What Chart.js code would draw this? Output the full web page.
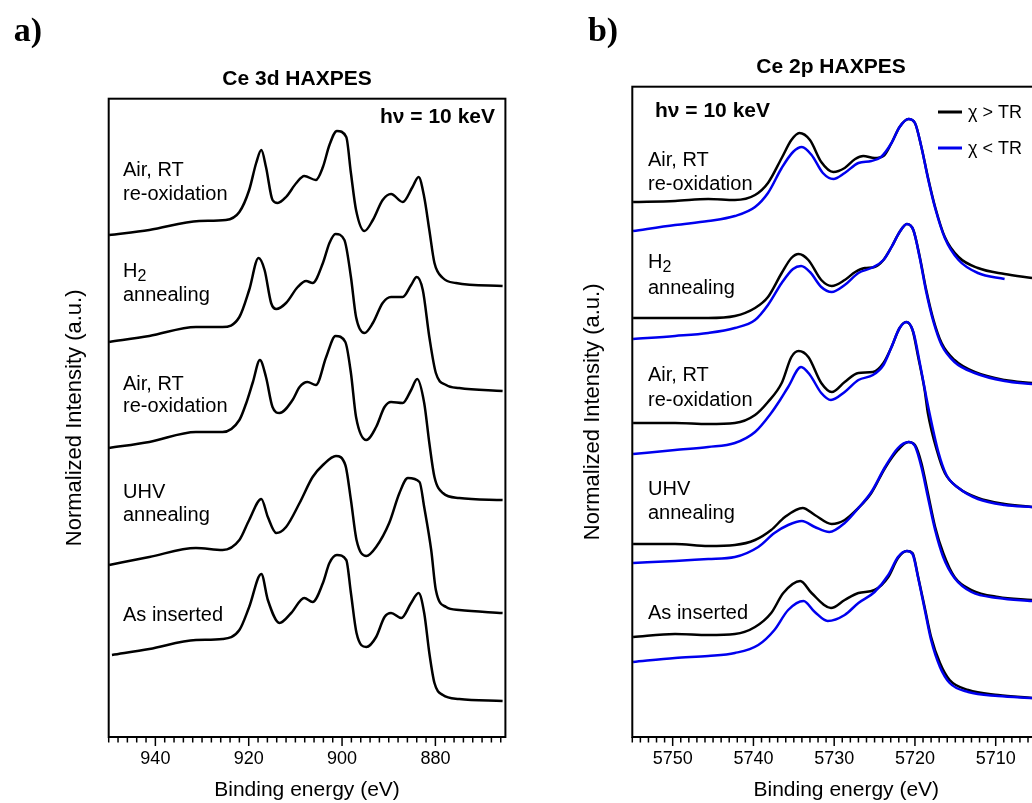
<!DOCTYPE html>
<html>
<head>
<meta charset="utf-8">
<script src="https://cdn.jsdelivr.net/npm/chart.js@4.4.1/dist/chart.umd.min.js"></script>
<style>
  html, body { margin: 0; padding: 0; background: #fff; }
  #page { position: relative; width: 1032px; height: 803px; overflow: hidden;
          font-family: "Liberation Sans", Arial, sans-serif; color: #000; }
  .panel { position: absolute; top: 0; height: 803px; }
  #boxA { left: 0; width: 520px; }
  #boxB { left: 520px; width: 560px; }
  .lbl { position: absolute; white-space: nowrap; line-height: 1; transform: translate(-50%, -50%); }
  .letter { font-family: "Liberation Serif", "Times New Roman", serif; font-weight: bold; font-size: 34px; }
  .ttl { font-weight: bold; font-size: 21px; }
</style>
</head>
<body>
<div id="page">
  <div class="panel" id="boxA"><canvas id="chartA"></canvas></div>
  <div class="panel" id="boxB"><canvas id="chartB"></canvas></div>
  <div class="lbl letter" style="left:28px; top:30px;">a)</div>
  <div class="lbl letter" style="left:603px; top:30px;">b)</div>
  <div class="lbl ttl" style="left:297px; top:77px;">Ce 3d HAXPES</div>
  <div class="lbl ttl" style="left:831px; top:65px;">Ce 2p HAXPES</div>
</div>
<script>
// ---- Ce 3d spectra (binding energy eV / normalized intensity, offset stacked) ----
const ce3dSamples = ['Air, RT re-oxidation', 'H2 annealing', 'Air, RT re-oxidation', 'UHV annealing', 'As inserted'];
const ce3dMajorTicks = [940, 920, 900, 880];

const ce3dReox2E = [949.9, 941.3, 930.6, 924.9, 922.0, 919.9, 918.4, 917.3, 916.3, 914.9, 913.8, 912.0, 909.8, 908.1, 905.6, 904.1, 902.7, 901.1, 899.1, 898.1, 897.0, 895.2, 893.4, 891.3, 889.5, 887.0, 884.9, 883.6, 882.4, 881.3, 880.2, 878.4, 875.6, 865.6];
const ce3dReox2I = [5.02, 5.07, 5.16, 5.17, 5.25, 5.47, 5.74, 5.87, 5.70, 5.37, 5.34, 5.40, 5.54, 5.61, 5.57, 5.70, 5.92, 6.06, 6.00, 5.64, 5.27, 5.06, 5.17, 5.37, 5.43, 5.35, 5.50, 5.60, 5.40, 5.07, 4.74, 4.59, 4.54, 4.51];

const ce3dH2E = [949.9, 941.3, 931.3, 925.6, 922.0, 919.9, 917.9, 916.6, 915.2, 914.1, 912.0, 909.5, 907.7, 906.3, 904.1, 902.7, 901.4, 899.5, 898.1, 897.0, 895.2, 893.4, 891.3, 889.5, 887.0, 885.2, 884.0, 882.7, 881.3, 879.9, 877.7, 874.9, 865.6];
const ce3dH2I = [3.95, 4.01, 4.10, 4.10, 4.20, 4.47, 4.79, 4.67, 4.34, 4.28, 4.34, 4.50, 4.56, 4.54, 4.74, 4.94, 5.03, 4.97, 4.60, 4.20, 4.04, 4.14, 4.34, 4.40, 4.40, 4.52, 4.60, 4.47, 4.00, 3.64, 3.52, 3.49, 3.46];

const ce3dReox1E = [949.9, 941.3, 931.3, 925.6, 922.0, 920.6, 919.1, 917.6, 916.3, 914.9, 913.4, 910.6, 909.1, 907.4, 905.6, 903.4, 901.4, 899.3, 898.1, 897.0, 894.8, 892.7, 890.9, 889.5, 887.0, 885.2, 883.9, 882.4, 881.3, 880.2, 878.4, 874.9, 865.6];
const ce3dReox1I = [2.89, 2.95, 3.05, 3.05, 3.17, 3.33, 3.55, 3.77, 3.60, 3.30, 3.24, 3.37, 3.50, 3.55, 3.52, 3.80, 4.01, 3.95, 3.64, 3.20, 2.97, 3.10, 3.30, 3.35, 3.34, 3.47, 3.58, 3.34, 2.94, 2.60, 2.44, 2.39, 2.37];

const ce3dUhvE = [949.9, 941.3, 931.3, 925.6, 922.0, 919.9, 917.3, 915.9, 914.1, 912.0, 909.1, 906.3, 904.1, 901.3, 899.3, 898.1, 896.9, 894.8, 892.7, 889.9, 887.7, 885.9, 883.4, 882.4, 880.9, 879.9, 877.7, 874.9, 865.6];
const ce3dUhvI = [1.72, 1.80, 1.89, 1.87, 1.97, 2.17, 2.38, 2.20, 2.04, 2.10, 2.34, 2.60, 2.72, 2.81, 2.72, 2.37, 1.97, 1.81, 1.90, 2.14, 2.44, 2.59, 2.55, 2.30, 1.87, 1.47, 1.30, 1.27, 1.24];

const ce3dAsInsE = [949.3, 941.3, 931.3, 925.6, 922.0, 919.9, 917.3, 915.9, 913.4, 910.9, 908.1, 906.3, 904.1, 902.7, 901.1, 899.1, 898.1, 896.9, 894.8, 892.7, 890.9, 889.5, 887.3, 885.2, 883.6, 882.4, 881.3, 880.2, 878.4, 874.9, 865.6];
const ce3dAsInsI = [0.82, 0.88, 0.97, 0.98, 1.07, 1.30, 1.63, 1.37, 1.14, 1.24, 1.39, 1.35, 1.54, 1.74, 1.82, 1.77, 1.44, 1.04, 0.90, 1.00, 1.20, 1.24, 1.19, 1.34, 1.44, 1.24, 0.84, 0.54, 0.42, 0.38, 0.36];

// ---- Ce 2p spectra, two series per sample: Hi = chi > TR (black), Lo = chi < TR (blue) ----
const ce2pSeries = ['\u03C7 > TR', '\u03C7 < TR'];
const ce2pMajorTicks = [5750, 5740, 5730, 5720, 5710];

const ce2pReox2HiE = [5754.9, 5749.7, 5745.6, 5742.3, 5739.8, 5738.2, 5736.5, 5735.3, 5734.3, 5733.0, 5731.6, 5730.1, 5728.7, 5727.4, 5726.4, 5725.0, 5723.9, 5722.9, 5721.9, 5720.8, 5720.0, 5719.2, 5718.4, 5717.5, 5716.3, 5714.6, 5712.2, 5708.9, 5705.5];
const ce2pReox2HiI = [5.35, 5.36, 5.38, 5.37, 5.42, 5.54, 5.79, 5.97, 6.04, 5.97, 5.75, 5.65, 5.69, 5.78, 5.81, 5.79, 5.81, 5.94, 6.10, 6.18, 6.14, 5.90, 5.60, 5.30, 5.00, 4.80, 4.69, 4.63, 4.59];
const ce2pReox2LoE = [5754.9, 5749.7, 5745.6, 5742.3, 5739.8, 5738.2, 5736.5, 5735.1, 5734.0, 5732.8, 5731.4, 5730.1, 5728.7, 5727.0, 5725.4, 5724.2, 5722.9, 5721.9, 5720.8, 5720.0, 5719.2, 5718.4, 5717.5, 5716.3, 5714.6, 5712.2, 5708.9];
const ce2pReox2LoI = [5.06, 5.12, 5.16, 5.21, 5.30, 5.44, 5.69, 5.85, 5.90, 5.82, 5.64, 5.58, 5.64, 5.74, 5.76, 5.80, 5.94, 6.10, 6.18, 6.14, 5.90, 5.59, 5.29, 4.99, 4.77, 4.64, 4.58];

const ce2pH2HiE = [5754.9, 5749.7, 5745.6, 5742.3, 5739.8, 5738.2, 5736.5, 5735.3, 5734.4, 5733.2, 5731.6, 5730.3, 5728.7, 5727.4, 5726.2, 5725.0, 5723.9, 5722.9, 5721.9, 5721.0, 5720.2, 5719.4, 5718.6, 5717.7, 5716.7, 5715.1, 5712.6, 5708.9, 5705.5];
const ce2pH2HiI = [4.19, 4.19, 4.19, 4.21, 4.29, 4.40, 4.64, 4.79, 4.83, 4.77, 4.57, 4.51, 4.57, 4.65, 4.69, 4.70, 4.77, 4.90, 5.05, 5.13, 5.07, 4.80, 4.47, 4.17, 3.94, 3.77, 3.65, 3.57, 3.54];
const ce2pH2LoE = [5754.9, 5749.7, 5745.6, 5742.3, 5739.8, 5738.2, 5736.5, 5735.1, 5734.1, 5733.0, 5731.6, 5730.3, 5728.7, 5727.0, 5725.4, 5723.9, 5722.9, 5721.9, 5721.0, 5720.2, 5719.4, 5718.6, 5717.7, 5716.7, 5715.1, 5712.6, 5708.9, 5705.5];
const ce2pH2LoI = [3.98, 4.01, 4.04, 4.09, 4.17, 4.32, 4.54, 4.68, 4.71, 4.65, 4.50, 4.45, 4.52, 4.64, 4.69, 4.77, 4.90, 5.05, 5.13, 5.07, 4.79, 4.45, 4.15, 3.92, 3.75, 3.64, 3.56, 3.53];

const ce2pReox1HiE = [5754.9, 5749.7, 5745.6, 5742.3, 5739.8, 5738.2, 5736.5, 5735.3, 5734.4, 5733.2, 5731.6, 5730.3, 5728.7, 5727.0, 5725.2, 5723.9, 5722.9, 5721.9, 5721.1, 5720.3, 5719.6, 5718.8, 5718.4, 5717.3, 5716.3, 5714.6, 5712.2, 5708.9, 5705.5];
const ce2pReox1HiI = [3.14, 3.14, 3.13, 3.14, 3.22, 3.35, 3.54, 3.80, 3.86, 3.80, 3.54, 3.45, 3.55, 3.64, 3.65, 3.74, 3.90, 4.09, 4.15, 4.07, 3.80, 3.47, 3.24, 2.87, 2.64, 2.49, 2.39, 2.33, 2.30];
const ce2pReox1LoE = [5754.9, 5749.7, 5745.6, 5742.3, 5739.8, 5737.8, 5736.7, 5735.7, 5734.1, 5733.0, 5731.6, 5730.4, 5728.7, 5727.0, 5725.2, 5723.9, 5722.9, 5721.9, 5721.0, 5720.2, 5719.4, 5718.6, 5718.2, 5717.1, 5716.1, 5714.6, 5712.2, 5708.9, 5705.5];
const ce2pReox1LoI = [2.83, 2.87, 2.90, 2.94, 3.05, 3.24, 3.37, 3.50, 3.70, 3.62, 3.44, 3.37, 3.45, 3.57, 3.62, 3.72, 3.90, 4.09, 4.15, 4.05, 3.74, 3.40, 3.24, 2.85, 2.62, 2.49, 2.38, 2.32, 2.30];

const ce2pUhvHiE = [5754.9, 5749.7, 5745.6, 5742.3, 5739.8, 5737.8, 5736.1, 5733.9, 5732.4, 5730.3, 5728.7, 5727.0, 5725.4, 5723.7, 5722.1, 5720.8, 5720.0, 5719.2, 5718.4, 5717.5, 5716.5, 5715.1, 5713.0, 5709.7, 5705.5];
const ce2pUhvHiI = [1.93, 1.93, 1.91, 1.92, 1.97, 2.07, 2.20, 2.29, 2.22, 2.13, 2.17, 2.29, 2.44, 2.69, 2.87, 2.95, 2.92, 2.74, 2.44, 2.10, 1.84, 1.60, 1.47, 1.40, 1.37];
const ce2pUhvLoE = [5754.9, 5749.7, 5745.6, 5742.3, 5739.4, 5737.4, 5735.7, 5734.0, 5732.4, 5730.6, 5728.7, 5727.0, 5725.4, 5723.7, 5722.1, 5720.8, 5720.0, 5719.2, 5718.4, 5717.5, 5716.5, 5715.1, 5713.0, 5709.7, 5705.5];
const ce2pUhvLoI = [1.74, 1.76, 1.78, 1.80, 1.90, 2.04, 2.12, 2.16, 2.10, 2.05, 2.14, 2.29, 2.45, 2.70, 2.89, 2.95, 2.91, 2.70, 2.40, 2.07, 1.80, 1.59, 1.45, 1.39, 1.36];

const ce2pAsInsHiE = [5754.9, 5749.7, 5745.6, 5742.3, 5739.8, 5737.8, 5736.3, 5734.2, 5732.8, 5730.4, 5728.7, 5727.0, 5725.0, 5723.3, 5722.1, 5721.0, 5720.3, 5719.6, 5718.8, 5718.0, 5716.9, 5715.7, 5713.4, 5709.7, 5705.5];
const ce2pAsInsHiI = [1.00, 1.03, 1.02, 1.03, 1.10, 1.24, 1.44, 1.56, 1.44, 1.29, 1.37, 1.44, 1.47, 1.60, 1.79, 1.86, 1.84, 1.60, 1.30, 1.00, 0.74, 0.57, 0.47, 0.42, 0.39];
const ce2pAsInsLoE = [5754.9, 5749.7, 5745.6, 5742.3, 5739.4, 5737.4, 5735.7, 5733.8, 5732.4, 5730.8, 5728.7, 5727.0, 5725.0, 5723.3, 5722.1, 5721.0, 5720.3, 5719.6, 5718.8, 5718.0, 5716.9, 5715.7, 5713.4, 5709.7, 5705.5];
const ce2pAsInsLoI = [0.75, 0.79, 0.81, 0.84, 0.92, 1.07, 1.27, 1.36, 1.25, 1.16, 1.22, 1.34, 1.45, 1.62, 1.80, 1.86, 1.83, 1.59, 1.28, 0.97, 0.70, 0.54, 0.45, 0.41, 0.39];

const seriesColors = ['#000000', '#0000ee'];
const FONT = '"Liberation Sans", Arial, sans-serif';

function pts(es, is) {
    return es.map((e, i) => ({ x: e, y: is[i] }));
}

function line(label, es, is, color, order) {
    return {
        label: label,
        data: pts(es, is),
        borderColor: color,
        borderWidth: 2.5,
        pointRadius: 0,
        cubicInterpolationMode: 'monotone',
        fill: false,
        order: order
    };
}

// frame, minor/major tick marks, in-plot labels and legend
const panelDecor = {
    id: 'panelDecor',
    afterDraw(chart, args, opts) {
        const ctx = chart.ctx;
        const a = chart.chartArea;
        const xs = chart.scales.x;
        ctx.save();
        ctx.strokeStyle = '#000';
        ctx.lineWidth = 2;
        ctx.strokeRect(a.left, a.top, a.right - a.left, a.bottom - a.top);

        ctx.lineWidth = 1.5;
        xs.ticks.forEach(t => {
            const px = xs.getPixelForValue(t.value);
            const len = opts.majors.includes(t.value) ? 8 : 4.5;
            ctx.beginPath();
            ctx.moveTo(px, a.bottom);
            ctx.lineTo(px, a.bottom + 1 + len);
            ctx.stroke();
        });

        ctx.fillStyle = '#000';
        ctx.textBaseline = 'alphabetic';
        opts.notes.forEach(n => {
            ctx.font = (n.bold ? 'bold ' : '') + n.size + 'px ' + FONT;
            ctx.textAlign = n.align || 'left';
            ctx.fillText(n.text, n.x, n.y);
            if (n.sub) {
                const w = ctx.measureText(n.text).width;
                ctx.font = (n.size - 4) + 'px ' + FONT;
                ctx.fillText(n.sub, n.x + w, n.y + 4);
            }
        });

        (opts.legend || []).forEach(l => {
            ctx.strokeStyle = l.color;
            ctx.lineWidth = 3;
            ctx.beginPath();
            ctx.moveTo(l.x, l.y);
            ctx.lineTo(l.x + 24, l.y);
            ctx.stroke();
            ctx.font = '18px ' + FONT;
            ctx.textAlign = 'left';
            ctx.fillText(l.text, l.x + 30, l.y + 6);
        });
        ctx.restore();
    }
};

function xAxis(min, max, step, majors) {
    return {
        type: 'linear',
        reverse: true,
        min: min,
        max: max,
        afterBuildTicks: s => {
            const t = [];
            for (let v = min + ((max - min) % step); v <= max + 1e-6; v += step) t.push({ value: Math.round(v) });
            s.ticks = t;
        },
        afterFit: s => { s.height = 66; },
        grid: { display: false, drawTicks: false },
        border: { display: false },
        ticks: {
            autoSkip: false,
            maxRotation: 0,
            padding: 11,
            color: '#000',
            font: { family: FONT, size: 18 },
            callback: v => majors.includes(v) ? String(v) : ''
        },
        title: {
            display: true,
            text: 'Binding energy (eV)',
            color: '#000',
            font: { family: FONT, size: 21 },
            padding: { top: 0, bottom: 0 }
        }
    };
}

function yAxis(max, width, titleOffset) {
    return {
        min: 0,
        max: max,
        afterFit: s => { s.width = width; },
        ticks: { display: false },
        grid: { display: false },
        border: { display: false },
        title: {
            display: true,
            text: 'Normalized Intensity (a.u.)',
            color: '#000',
            font: { family: FONT, size: 22 },
            padding: { top: titleOffset, bottom: 0 }
        }
    };
}

const notesA = [
    { text: 'Air, RT', x: 123, y: 176, size: 20 },
    { text: 're-oxidation', x: 123, y: 200, size: 20 },
    { text: 'H', sub: '2', x: 123, y: 277, size: 20 },
    { text: 'annealing', x: 123, y: 301, size: 20 },
    { text: 'Air, RT', x: 123, y: 390, size: 20 },
    { text: 're-oxidation', x: 123, y: 412, size: 20 },
    { text: 'UHV', x: 123, y: 498, size: 20 },
    { text: 'annealing', x: 123, y: 521, size: 20 },
    { text: 'As inserted', x: 123, y: 621, size: 20 },
    { text: 'h\u03BD = 10 keV', x: 495, y: 123, size: 21, bold: true, align: 'right' }
];

const notesB = [
    { text: 'Air, RT', x: 128, y: 166, size: 20 },
    { text: 're-oxidation', x: 128, y: 190, size: 20 },
    { text: 'H', sub: '2', x: 128, y: 268, size: 20 },
    { text: 'annealing', x: 128, y: 294, size: 20 },
    { text: 'Air, RT', x: 128, y: 381, size: 20 },
    { text: 're-oxidation', x: 128, y: 406, size: 20 },
    { text: 'UHV', x: 128, y: 495, size: 20 },
    { text: 'annealing', x: 128, y: 519, size: 20 },
    { text: 'As inserted', x: 128, y: 619, size: 20 },
    { text: 'h\u03BD = 10 keV', x: 135, y: 117, size: 21, bold: true }
];

const legendB = [
    { text: ce2pSeries[0], color: seriesColors[0], x: 418, y: 112 },
    { text: ce2pSeries[1], color: seriesColors[1], x: 418, y: 148 }
];

new Chart(document.getElementById('chartA'), {
    type: 'line',
    data: {
        datasets: [
            line(ce3dSamples[0], ce3dReox2E, ce3dReox2I, seriesColors[0], 1),
            line(ce3dSamples[1], ce3dH2E, ce3dH2I, seriesColors[0], 1),
            line(ce3dSamples[2], ce3dReox1E, ce3dReox1I, seriesColors[0], 1),
            line(ce3dSamples[3], ce3dUhvE, ce3dUhvI, seriesColors[0], 1),
            line(ce3dSamples[4], ce3dAsInsE, ce3dAsInsI, seriesColors[0], 1)
        ]
    },
    options: {
        responsive: true,
        maintainAspectRatio: false,
        animation: false,
        layout: { padding: { top: 98.7, right: 14.6, bottom: 0, left: 0 } },
        scales: {
            x: xAxis(865, 950, 2, ce3dMajorTicks),
            y: yAxis(6.383, 108.7, 61.8)
        },
        plugins: {
            legend: { display: false },
            tooltip: { enabled: false },
            panelDecor: { majors: ce3dMajorTicks, notes: notesA }
        }
    },
    plugins: [panelDecor]
});

new Chart(document.getElementById('chartB'), {
    type: 'line',
    data: {
        datasets: [
            line(ce3dSamples[0] + ' ' + ce2pSeries[0], ce2pReox2HiE, ce2pReox2HiI, seriesColors[0], 1),
            line(ce3dSamples[0] + ' ' + ce2pSeries[1], ce2pReox2LoE, ce2pReox2LoI, seriesColors[1], 0),
            line(ce3dSamples[1] + ' ' + ce2pSeries[0], ce2pH2HiE, ce2pH2HiI, seriesColors[0], 1),
            line(ce3dSamples[1] + ' ' + ce2pSeries[1], ce2pH2LoE, ce2pH2LoI, seriesColors[1], 0),
            line(ce3dSamples[2] + ' ' + ce2pSeries[0], ce2pReox1HiE, ce2pReox1HiI, seriesColors[0], 1),
            line(ce3dSamples[2] + ' ' + ce2pSeries[1], ce2pReox1LoE, ce2pReox1LoI, seriesColors[1], 0),
            line(ce3dSamples[3] + ' ' + ce2pSeries[0], ce2pUhvHiE, ce2pUhvHiI, seriesColors[0], 1),
            line(ce3dSamples[3] + ' ' + ce2pSeries[1], ce2pUhvLoE, ce2pUhvLoI, seriesColors[1], 0),
            line(ce3dSamples[4] + ' ' + ce2pSeries[0], ce2pAsInsHiE, ce2pAsInsHiI, seriesColors[0], 1),
            line(ce3dSamples[4] + ' ' + ce2pSeries[1], ce2pAsInsLoE, ce2pAsInsLoI, seriesColors[1], 0)
        ]
    },
    options: {
        responsive: true,
        maintainAspectRatio: false,
        animation: false,
        layout: { padding: { top: 86.7, right: 19.7, bottom: 0, left: 0 } },
        scales: {
            x: xAxis(5702, 5755, 1, ce2pMajorTicks),
            y: yAxis(6.503, 112.3, 59.8)
        },
        plugins: {
            legend: { display: false },
            tooltip: { enabled: false },
            panelDecor: { majors: ce2pMajorTicks, notes: notesB, legend: legendB }
        }
    },
    plugins: [panelDecor]
});
</script>
</body>
</html>
